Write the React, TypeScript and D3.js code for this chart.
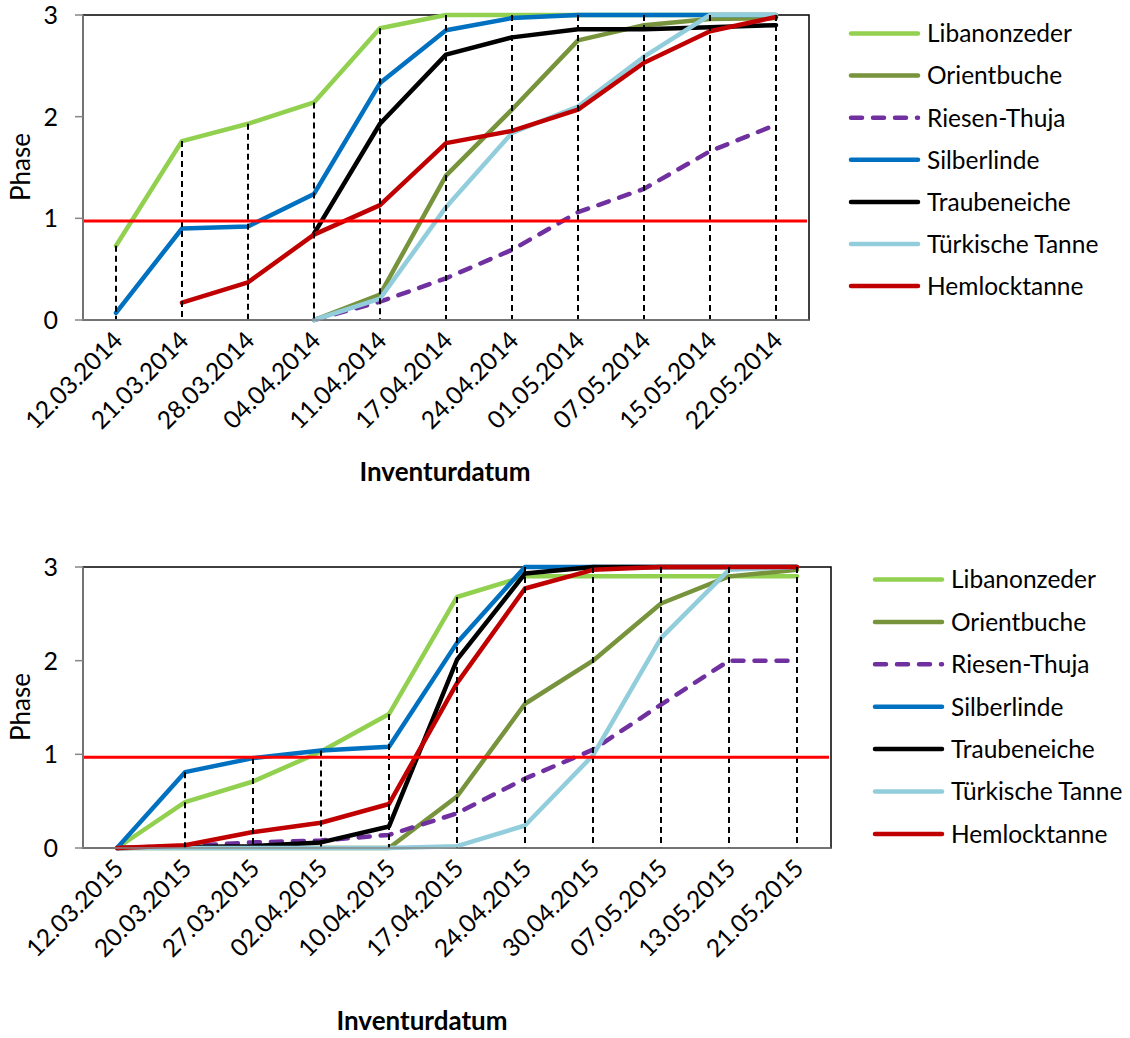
import React from "react";
import * as d3 from "d3";

const seriesNames = ["Libanonzeder", "Orientbuche", "Riesen-Thuja", "Silberlinde", "Traubeneiche", "Türkische Tanne", "Hemlocktanne"];
const seriesColors = ["#92D050", "#77933C", "#7030A0", "#0070C0", "#000000", "#92CDDC", "#C00000"];
const seriesDashed = [false, false, true, false, false, false, false];

const dates2014 = ["12.03.2014", "21.03.2014", "28.03.2014", "04.04.2014", "11.04.2014", "17.04.2014", "24.04.2014", "01.05.2014", "07.05.2014", "15.05.2014", "22.05.2014"];
const libanonzeder2014 = [0.73, 1.76, 1.93, 2.14, 2.87, 3, 3, 3, 3, 3, 3];
const orientbuche2014 = [null, null, null, 0, 0.25, 1.42, 2.07, 2.75, 2.9, 2.96, 2.97];
const riesenThuja2014 = [null, null, null, 0, 0.18, 0.41, 0.69, 1.06, 1.29, 1.66, 1.92];
const silberlinde2014 = [0.07, 0.9, 0.92, 1.24, 2.33, 2.85, 2.97, 3, 3, 3, 3];
const traubeneiche2014 = [null, null, null, 0.85, 1.93, 2.61, 2.78, 2.86, 2.86, 2.88, 2.9];
const tuerkischeTanne2014 = [null, null, null, 0, 0.21, 1.11, 1.84, 2.1, 2.59, 3, 3];
const hemlocktanne2014 = [null, 0.17, 0.37, 0.84, 1.13, 1.74, 1.86, 2.07, 2.53, 2.84, 2.98];
const reference2014 = 0.975;

const dates2015 = ["12.03.2015", "20.03.2015", "27.03.2015", "02.04.2015", "10.04.2015", "17.04.2015", "24.04.2015", "30.04.2015", "07.05.2015", "13.05.2015", "21.05.2015"];
const libanonzeder2015 = [0, 0.49, 0.71, 1.03, 1.43, 2.68, 2.9, 2.9, 2.9, 2.9, 2.9];
const orientbuche2015 = [0, 0, 0, 0, 0, 0.55, 1.54, 2.0, 2.61, 2.9, 2.97];
const riesenThuja2015 = [0, 0.02, 0.06, 0.08, 0.14, 0.37, 0.74, 1.05, 1.53, 2.0, 2.0];
const silberlinde2015 = [0, 0.81, 0.96, 1.04, 1.08, 2.19, 3, 3, 3, 3, 3];
const traubeneiche2015 = [0, 0.01, 0.02, 0.06, 0.23, 2.01, 2.93, 3, 3, 3, 3];
const tuerkischeTanne2015 = [0, 0, 0, 0, 0, 0.02, 0.24, 0.99, 2.24, 2.97, 3];
const hemlocktanne2015 = [0, 0.03, 0.17, 0.27, 0.47, 1.76, 2.77, 2.97, 3, 3, 3];
const reference2015 = 0.97;

const yTicks = [0, 1, 2, 3];
const yTitle = "Phase";
const xTitle = "Inventurdatum";

const FONT = "Lato, 'Open Sans', sans-serif";

type Layout = {
  x0: number; x1: number; y0: number; y1: number;
  legendX: number; legendY0: number; legendStep: number;
  titleX: number; titleY: number; phaseY: number;
};

function Chart({ dates, values, reference, layout }: { dates: string[]; values: (number | null)[][]; reference: number; layout: Layout }) {
  const x = d3.scaleBand<string>().domain(dates).range([layout.x0, layout.x1]);
  const cx = (d: string) => (x(d) as number) + x.bandwidth() / 2;
  const y = d3.scaleLinear().domain([0, 3]).range([layout.y1, layout.y0]);
  const line = d3
    .line<number | null>()
    .defined((d) => d !== null)
    .x((_, i) => cx(dates[i]))
    .y((d) => y(d as number));
  const maxes = dates.map((_, i) => d3.max(values, (s) => (s[i] === null ? undefined : (s[i] as number))) ?? 0);

  return (
    <g>
      <rect x={layout.x0} y={layout.y0} width={layout.x1 - layout.x0} height={layout.y1 - layout.y0} fill="none" stroke="#000" strokeWidth={1.5} />
      {values.map((s, k) => (
        <path
          key={k}
          d={line(s) || ""}
          fill="none"
          stroke={seriesColors[k]}
          strokeWidth={4.5}
          strokeLinejoin="round"
          strokeLinecap="round"
          strokeDasharray={seriesDashed[k] ? "11,11" : undefined}
        />
      ))}
      {dates.map((d, i) => (
        <line key={d} x1={cx(d)} x2={cx(d)} y1={y(maxes[i])} y2={y(0)} stroke="#000" strokeWidth={2} strokeDasharray="6,4" />
      ))}
      <line x1={layout.x0} x2={layout.x1 - 2} y1={y(reference)} y2={y(reference)} stroke="#FF0000" strokeWidth={3} />
      <line x1={layout.x0} x2={layout.x0} y1={layout.y0} y2={layout.y1} stroke="#868686" strokeWidth={1.5} />
      <line x1={layout.x0} x2={layout.x1} y1={layout.y1} y2={layout.y1} stroke="#868686" strokeWidth={1.5} />
      {yTicks.map((t) => (
        <g key={t}>
          <line x1={layout.x0 - 8} x2={layout.x0} y1={y(t)} y2={y(t)} stroke="#868686" strokeWidth={1.5} />
          <text x={layout.x0 - 25} y={y(t)} dy="0.36em" textAnchor="end" fontSize={25} fontFamily={FONT} fill="#000">
            {t}
          </text>
        </g>
      ))}
      {dates.map((d) => (
        <text
          key={d}
          transform={`translate(${cx(d) + 8},${layout.y1 + 22}) rotate(-45)`}
          textAnchor="end"
          fontSize={24.5}
          fontFamily={FONT}
          fill="#000"
        >
          {d}
        </text>
      ))}
      <text transform={`translate(${30},${layout.phaseY}) rotate(-90)`} textAnchor="middle" fontSize={26} fontFamily={FONT} fill="#000">
        {yTitle}
      </text>
      <text x={layout.titleX} y={layout.titleY} textAnchor="middle" fontSize={26} fontWeight="bold" fontFamily={FONT} fill="#000">
        {xTitle}
      </text>
      {seriesNames.map((n, k) => {
        const ly = layout.legendY0 + k * layout.legendStep;
        return (
          <g key={n}>
            <line
              x1={layout.legendX + 2}
              x2={layout.legendX + 69}
              y1={ly}
              y2={ly}
              stroke={seriesColors[k]}
              strokeWidth={4.5}
              strokeLinecap="round"
              strokeDasharray={seriesDashed[k] ? "11,11" : undefined}
            />
            <text x={layout.legendX + 78} y={ly} dy="0.36em" fontSize={24.5} fontFamily={FONT} fill="#000">
              {n}
            </text>
          </g>
        );
      })}
    </g>
  );
}

export default function App() {
  const top: Layout = { x0: 83, x1: 809, y0: 15, y1: 320, legendX: 849, legendY0: 33.5, legendStep: 42.1, titleX: 445, titleY: 481, phaseY: 167 };
  const bottom: Layout = { x0: 83, x1: 831, y0: 567, y1: 848, legendX: 873, legendY0: 579.5, legendStep: 42.4, titleX: 422, titleY: 1030, phaseY: 707 };
  return (
    <svg width={1130} height={1038} style={{ position: "absolute", left: 0, top: 0, background: "#fff" }}>
      <rect width={1130} height={1038} fill="#fff" />
      <Chart
        dates={dates2014}
        values={[libanonzeder2014, orientbuche2014, riesenThuja2014, silberlinde2014, traubeneiche2014, tuerkischeTanne2014, hemlocktanne2014]}
        reference={reference2014}
        layout={top}
      />
      <Chart
        dates={dates2015}
        values={[libanonzeder2015, orientbuche2015, riesenThuja2015, silberlinde2015, traubeneiche2015, tuerkischeTanne2015, hemlocktanne2015]}
        reference={reference2015}
        layout={bottom}
      />
    </svg>
  );
}
